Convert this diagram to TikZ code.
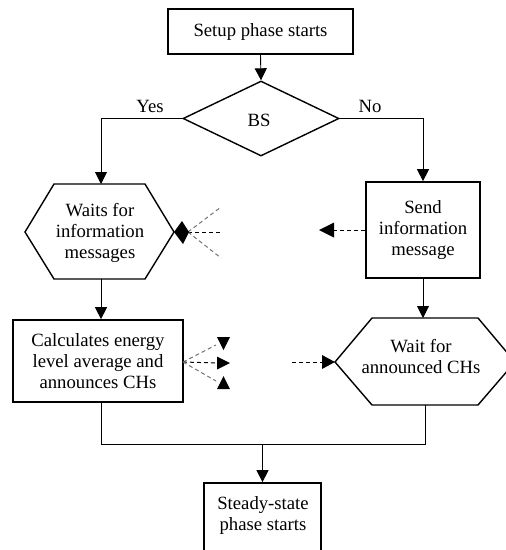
\documentclass[tikz,border=0pt]{standalone}
\usepackage{fontspec}
\setmainfont{Liberation Serif}
\usetikzlibrary{arrows.meta,shapes.geometric}
\begin{document}
\begin{tikzpicture}[x=1pt,y=-1pt,
  every node/.style={font=\fontsize{18.7}{21}\selectfont, align=center},
  boxnode/.style={draw, line width=1.7pt, rectangle, inner sep=0pt},
  shapeline/.style={line width=1.4pt, line join=miter},
  conn/.style={line width=0.9pt, -{Triangle[length=12pt,width=12pt]}},
  plainconn/.style={line width=0.9pt},
  dashblack/.style={line width=1pt, dash pattern=on 4pt off 3pt, black},
  dashgray/.style={line width=1pt, dash pattern=on 4pt off 3pt, black!55},
  tipfill/.style={fill=black, draw=none}
]
\useasboundingbox (0,0) rectangle (506,550);
\clip (0,0) rectangle (506,550);

% top box
\node[boxnode, minimum width=185pt, minimum height=45pt] (top) at (260.5,31.5) {Setup phase starts};

% decision
\node[diamond, draw, shapeline, minimum width=156pt, minimum height=75pt, inner sep=0pt] (bs) at (261,118.5) {};
\node (bstxt) at (259,120) {BS};
\node (yes) at (150,106) {Yes};
\node (no) at (370,106) {No};

% left hexagon
\coordinate (lhexL) at (25,232);
\coordinate (lhexTL) at (54,184);
\coordinate (lhexTR) at (145,184);
\coordinate (lhexR) at (174,232);
\coordinate (lhexBR) at (145,279);
\coordinate (lhexBL) at (54,279);
\coordinate (lhexT) at (101,184);
\coordinate (lhexB) at (101,279);
\draw[shapeline] (lhexL) -- (lhexTL) -- (lhexTR) -- (lhexR) -- (lhexBR) -- (lhexBL) -- cycle;
\node (lhex) at (100,232.5) {Waits for\\information\\messages};

% send box
\node[boxnode, minimum width=114pt, minimum height=96pt] (send) at (423,230) {Send\\information\\message};

% calc box
\node[boxnode, minimum width=170pt, minimum height=82pt] (calc) at (98,361) {Calculates energy\\level average and\\announces CHs};

% right hexagon
\coordinate (rhexL) at (335,362);
\coordinate (rhexTL) at (372,318);
\coordinate (rhexTR) at (478,318);
\coordinate (rhexR) at (515,362);
\coordinate (rhexBR) at (478,405);
\coordinate (rhexBL) at (372,405);
\coordinate (rhexT) at (423,318);
\coordinate (rhexB) at (425,405);
\draw[shapeline] (rhexL) -- (rhexTL) -- (rhexTR) -- (rhexR) -- (rhexBR) -- (rhexBL) -- cycle;
\node (rhex) at (421,357) {Wait for\\announced CHs};

% bottom box
\node[boxnode, minimum width=117pt, minimum height=110pt] (bot) at (262.5,538) {};
\node (bottxt) at (263,515) {Steady-state\\phase starts};

% connectors
\draw[conn] (top.south) -- (bs.north);
\draw[conn] (bs.west) -| (lhexT);
\draw[conn] (bs.east) -| (send.north);
\draw[conn] (lhexB) -- (lhexB |- calc.north);
\draw[conn] (send.south) -- (rhexT);
\coordinate (j1) at (101,444);
\coordinate (j2) at (425,444);
\draw[plainconn] (j1 |- calc.south) -- (j1) -- (j2) -- (rhexB);
\draw[conn] (bot.north |- j1) -- (bot.north);

% dashed signals near left hexagon
\coordinate (lfan) at (188,232);
\coordinate (lfan1) at (221,207);
\coordinate (lfan2) at (221,232);
\coordinate (lfan3) at (221,258);
\draw[dashgray] (lfan) -- (lfan1);
\draw[dashblack] (lfan) -- (lfan2);
\draw[dashgray] (lfan) -- (lfan3);
\fill[tipfill] (lhexR) -- (182,221) -- (189,232) -- (183,244) -- cycle;

% dashed arrow from send box
\coordinate (sendtip) at (319,230);
\draw[dashblack] (send.west) -- (332,230);
\fill[tipfill] (sendtip) -- (334,222.5) -- (334,237.5) -- cycle;

% dashed arrow into right hexagon
\coordinate (rstart) at (292,362);
\draw[dashblack] (rstart) -- (324,362);
\fill[tipfill] (rhexL) -- (322,355) -- (322,369) -- cycle;

% dashed fan from calc box
\coordinate (cfan) at (183,362);
\coordinate (cfan1) at (216,345);
\coordinate (cfan2) at (217,363);
\coordinate (cfan3) at (216,381);
\draw[dashgray] (cfan) -- (cfan1);
\draw[dashblack] (cfan) -- (cfan2);
\draw[dashgray] (cfan) -- (cfan3);
\fill[tipfill] (217,337) -- (230,337) -- (223.5,350) -- cycle;
\fill[tipfill] (217,356.5) -- (217,369.5) -- (230,363) -- cycle;
\fill[tipfill] (223.5,376) -- (230,389) -- (217,389) -- cycle;
\end{tikzpicture}
\end{document}
